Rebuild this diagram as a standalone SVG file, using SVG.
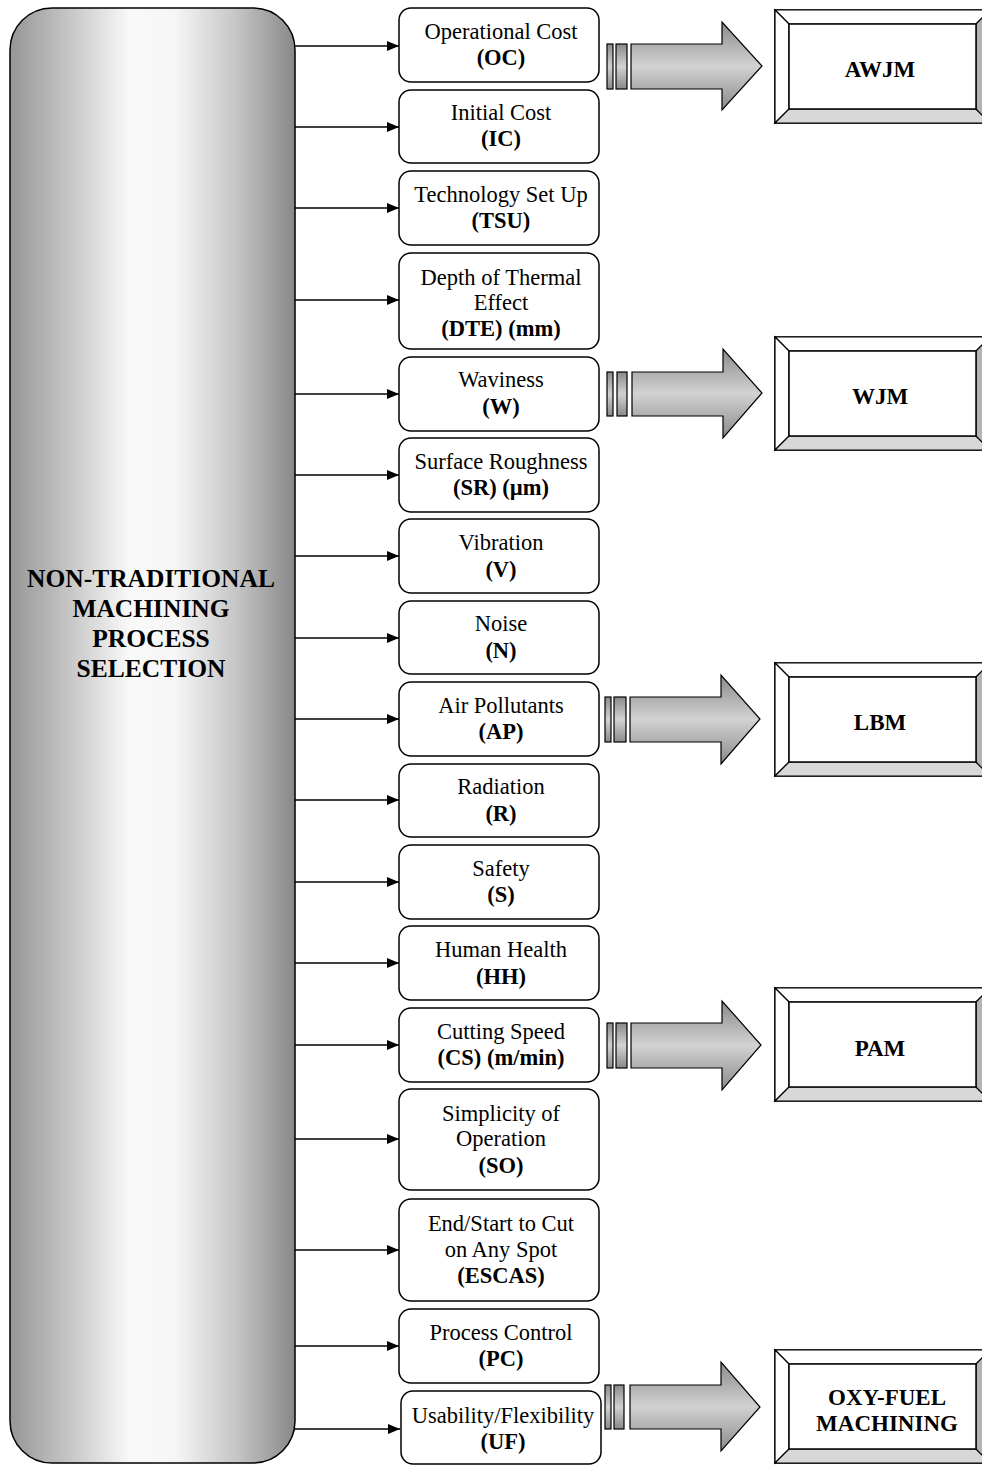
<svg xmlns="http://www.w3.org/2000/svg" width="982" height="1465" viewBox="0 0 982 1465">
<style>
.lbl{font-family:"Liberation Serif","Times New Roman",serif;font-size:22.5px;text-anchor:middle;fill:#000}
.b{font-weight:bold}
.box{fill:#fff;stroke:#000;stroke-width:1.5}
.conn{stroke:#000;stroke-width:1.6;fill:none;marker-end:url(#ah)}
.bar{fill:url(#ag);stroke:#000;stroke-width:1.2}
.arr{fill:url(#ag);stroke:#000;stroke-width:1.2}
.o{fill:#fff;stroke:#000;stroke-width:1.5}
.bt{fill:#d8d8d8;stroke:#000;stroke-width:1.2}
.br{fill:#b4b4b4;stroke:#000;stroke-width:1.2}
.bw{fill:#fff;stroke:#000;stroke-width:1.2}
.title{font-family:"Liberation Serif","Times New Roman",serif;font-size:25.5px;font-weight:bold;text-anchor:middle}
.out{font-family:"Liberation Serif","Times New Roman",serif;font-size:23px;font-weight:bold;text-anchor:middle}
</style>
<defs>
<linearGradient id="pg" x1="0" y1="0" x2="1" y2="0">
<stop offset="0" stop-color="#969696"/>
<stop offset="0.2" stop-color="#c4c4c4"/>
<stop offset="0.42" stop-color="#f9f9f9"/>
<stop offset="0.58" stop-color="#f6f6f6"/>
<stop offset="0.8" stop-color="#c4c4c4"/>
<stop offset="1" stop-color="#888"/>
</linearGradient>
<linearGradient id="ag" x1="0" y1="0" x2="0" y2="1">
<stop offset="0" stop-color="#8a8a8a"/>
<stop offset="0.5" stop-color="#d2d2d2"/>
<stop offset="1" stop-color="#8a8a8a"/>
</linearGradient>
<marker id="ah" viewBox="0 0 12 10" refX="12" refY="5" markerWidth="12" markerHeight="10" markerUnits="userSpaceOnUse" orient="auto">
<path d="M0,0 L12,5 L0,10 Z" fill="#000"/>
</marker>
</defs>

<g id="panel">
<rect x="10" y="8" width="285" height="1455" rx="42" ry="42" fill="url(#pg)" stroke="#000" stroke-width="1.5"/>
<text class="title" x="151" y="587">NON-TRADITIONAL</text>
<text class="title" x="151" y="617">MACHINING</text>
<text class="title" x="151" y="647">PROCESS</text>
<text class="title" x="151" y="677">SELECTION</text>
</g>

<g id="connectors">
<path class="conn" d="M295,46 H399"/>
<path class="conn" d="M295,127 H399"/>
<path class="conn" d="M295,208 H399"/>
<path class="conn" d="M295,300 H399"/>
<path class="conn" d="M295,394 H399"/>
<path class="conn" d="M295,475 H399"/>
<path class="conn" d="M295,556 H399"/>
<path class="conn" d="M295,638 H399"/>
<path class="conn" d="M295,719 H399"/>
<path class="conn" d="M295,800 H399"/>
<path class="conn" d="M295,882 H399"/>
<path class="conn" d="M295,963 H399"/>
<path class="conn" d="M295,1045 H399"/>
<path class="conn" d="M295,1139 H399"/>
<path class="conn" d="M295,1250 H399"/>
<path class="conn" d="M295,1346 H399"/>
<path class="conn" d="M295,1429 H400"/>
</g>

<g id="n-oc"><rect class="box" x="399" y="8" width="200" height="74" rx="12"/>
<text class="lbl" x="501" y="39">Operational Cost</text><text class="lbl b" x="501" y="65">(OC)</text></g>
<g id="n-ic"><rect class="box" x="399" y="90" width="200" height="73" rx="12"/>
<text class="lbl" x="501" y="120">Initial Cost</text><text class="lbl b" x="501" y="146">(IC)</text></g>
<g id="n-tsu"><rect class="box" x="399" y="171" width="200" height="74" rx="12"/>
<text class="lbl" x="501" y="202">Technology Set Up</text><text class="lbl b" x="501" y="228">(TSU)</text></g>
<g id="n-dte"><rect class="box" x="399" y="253" width="200" height="96" rx="12"/>
<text class="lbl" x="501" y="285">Depth of Thermal</text><text class="lbl" x="501" y="310">Effect</text><text class="lbl b" x="501" y="336">(DTE) (mm)</text></g>
<g id="n-w"><rect class="box" x="399" y="357" width="200" height="74" rx="12"/>
<text class="lbl" x="501" y="387">Waviness</text><text class="lbl b" x="501" y="414">(W)</text></g>
<g id="n-sr"><rect class="box" x="399" y="438" width="200" height="74" rx="12"/>
<text class="lbl" x="501" y="469">Surface Roughness</text><text class="lbl b" x="501" y="495">(SR) (µm)</text></g>
<g id="n-v"><rect class="box" x="399" y="519" width="200" height="74" rx="12"/>
<text class="lbl" x="501" y="550">Vibration</text><text class="lbl b" x="501" y="577">(V)</text></g>
<g id="n-n"><rect class="box" x="399" y="601" width="200" height="73" rx="12"/>
<text class="lbl" x="501" y="631">Noise</text><text class="lbl b" x="501" y="658">(N)</text></g>
<g id="n-ap"><rect class="box" x="399" y="682" width="200" height="74" rx="12"/>
<text class="lbl" x="501" y="713">Air Pollutants</text><text class="lbl b" x="501" y="739">(AP)</text></g>
<g id="n-r"><rect class="box" x="399" y="764" width="200" height="73" rx="12"/>
<text class="lbl" x="501" y="794">Radiation</text><text class="lbl b" x="501" y="821">(R)</text></g>
<g id="n-s"><rect class="box" x="399" y="845" width="200" height="74" rx="12"/>
<text class="lbl" x="501" y="876">Safety</text><text class="lbl b" x="501" y="902">(S)</text></g>
<g id="n-hh"><rect class="box" x="399" y="926" width="200" height="74" rx="12"/>
<text class="lbl" x="501" y="957">Human Health</text><text class="lbl b" x="501" y="984">(HH)</text></g>
<g id="n-cs"><rect class="box" x="399" y="1008" width="200" height="74" rx="12"/>
<text class="lbl" x="501" y="1039">Cutting Speed</text><text class="lbl b" x="501" y="1065">(CS) (m/min)</text></g>
<g id="n-so"><rect class="box" x="399" y="1089" width="200" height="101" rx="12"/>
<text class="lbl" x="501" y="1121">Simplicity of</text><text class="lbl" x="501" y="1146">Operation</text><text class="lbl b" x="501" y="1173">(SO)</text></g>
<g id="n-escas"><rect class="box" x="399" y="1199" width="200" height="102" rx="12"/>
<text class="lbl" x="501" y="1231">End/Start to Cut</text><text class="lbl" x="501" y="1257">on Any Spot</text><text class="lbl b" x="501" y="1283">(ESCAS)</text></g>
<g id="n-pc"><rect class="box" x="399" y="1309" width="200" height="74" rx="12"/>
<text class="lbl" x="501" y="1340">Process Control</text><text class="lbl b" x="501" y="1366">(PC)</text></g>
<g id="n-uf"><rect class="box" x="401" y="1391" width="200" height="73" rx="12"/>
<text class="lbl" x="503" y="1423">Usability/Flexibility</text><text class="lbl b" x="503" y="1449">(UF)</text></g>

<g id="block-arrows">
<g id="arrow-awjm">
<rect class="bar" x="607" y="44" width="6" height="45"/>
<rect class="bar" x="616" y="44" width="11" height="45"/>
<path class="arr" d="M631,44 H722 V22 L762,66 L722,110 V89 H631 Z"/>
</g>
<g id="arrow-wjm">
<rect class="bar" x="607" y="372" width="6" height="44"/>
<rect class="bar" x="617" y="372" width="10" height="44"/>
<path class="arr" d="M632,372 H723 V349 L762,393 L723,438 V416 H632 Z"/>
</g>
<g id="arrow-lbm">
<rect class="bar" x="605" y="697" width="6" height="45"/>
<rect class="bar" x="614" y="697" width="12" height="45"/>
<path class="arr" d="M630,697 H721 V675 L760,719 L721,764 V742 H630 Z"/>
</g>
<g id="arrow-pam">
<rect class="bar" x="607" y="1023" width="6" height="45"/>
<rect class="bar" x="616" y="1023" width="11" height="45"/>
<path class="arr" d="M631,1023 H722 V1001 L761,1045 L722,1090 V1068 H631 Z"/>
</g>
<g id="arrow-oxy">
<rect class="bar" x="605" y="1385" width="6" height="44"/>
<rect class="bar" x="614" y="1385" width="10" height="44"/>
<path class="arr" d="M630,1385 H721 V1362 L760,1407 L721,1451 V1429 H630 Z"/>
</g>
</g>

<g id="n-awjm">
<rect class="o" x="775" y="10" width="215" height="113"/>
<path class="bw" d="M775,10 L789,24 L976,24 L990,10 Z"/>
<path class="bw" d="M775,10 L789,24 L789,109 L775,123 Z"/>
<path class="bt" d="M775,123 L789,109 L976,109 L990,123 Z"/>
<path class="br" d="M990,10 L976,24 L976,109 L990,123 Z"/>
<rect class="o" x="789" y="24" width="187" height="85"/>
<text class="out" x="880" y="77">AWJM</text>
</g>
<g id="n-wjm">
<rect class="o" x="775" y="337" width="215" height="113"/>
<path class="bw" d="M775,337 L789,351 L976,351 L990,337 Z"/>
<path class="bw" d="M775,337 L789,351 L789,436 L775,450 Z"/>
<path class="bt" d="M775,450 L789,436 L976,436 L990,450 Z"/>
<path class="br" d="M990,337 L976,351 L976,436 L990,450 Z"/>
<rect class="o" x="789" y="351" width="187" height="85"/>
<text class="out" x="880" y="404">WJM</text>
</g>
<g id="n-lbm">
<rect class="o" x="775" y="663" width="215" height="113"/>
<path class="bw" d="M775,663 L789,677 L976,677 L990,663 Z"/>
<path class="bw" d="M775,663 L789,677 L789,762 L775,776 Z"/>
<path class="bt" d="M775,776 L789,762 L976,762 L990,776 Z"/>
<path class="br" d="M990,663 L976,677 L976,762 L990,776 Z"/>
<rect class="o" x="789" y="677" width="187" height="85"/>
<text class="out" x="880" y="730">LBM</text>
</g>
<g id="n-pam">
<rect class="o" x="775" y="988" width="215" height="113"/>
<path class="bw" d="M775,988 L789,1002 L976,1002 L990,988 Z"/>
<path class="bw" d="M775,988 L789,1002 L789,1087 L775,1101 Z"/>
<path class="bt" d="M775,1101 L789,1087 L976,1087 L990,1101 Z"/>
<path class="br" d="M990,988 L976,1002 L976,1087 L990,1101 Z"/>
<rect class="o" x="789" y="1002" width="187" height="85"/>
<text class="out" x="880" y="1056">PAM</text>
</g>
<g id="n-oxy">
<rect class="o" x="775" y="1350" width="215" height="113"/>
<path class="bw" d="M775,1350 L789,1364 L976,1364 L990,1350 Z"/>
<path class="bw" d="M775,1350 L789,1364 L789,1449 L775,1463 Z"/>
<path class="bt" d="M775,1463 L789,1449 L976,1449 L990,1463 Z"/>
<path class="br" d="M990,1350 L976,1364 L976,1449 L990,1463 Z"/>
<rect class="o" x="789" y="1364" width="187" height="85"/>
<text class="out" x="887" y="1405">OXY-FUEL</text>
<text class="out" x="887" y="1431">MACHINING</text>
</g>
</svg>
